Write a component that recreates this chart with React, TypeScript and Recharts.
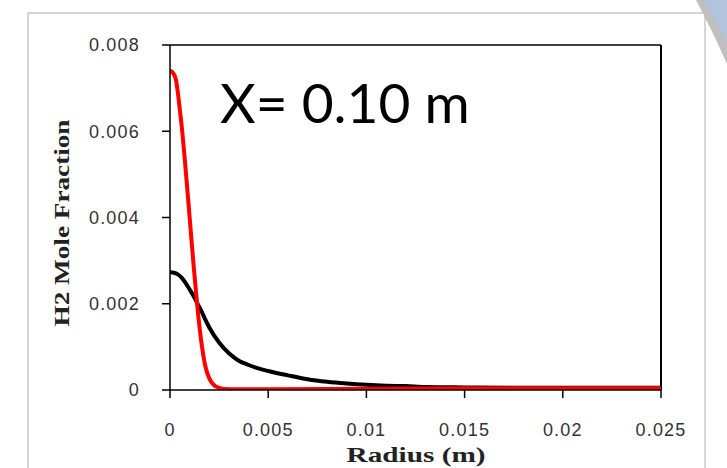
import { LineChart, Line, XAxis, YAxis, ReferenceLine, Label } from 'recharts';

// radius (m) and H2 mole fraction
const redRadius = [0, 0.0001, 0.0002, 0.0003, 0.0004, 0.0005, 0.0006, 0.0008, 0.001, 0.0012, 0.0014, 0.0016, 0.0018, 0.002, 0.0022, 0.0025, 0.003, 0.005, 0.01, 0.015, 0.02, 0.025];
const redValues = [0.0074, 0.00738, 0.00732, 0.0072, 0.0069, 0.0065, 0.0061, 0.0051, 0.004, 0.0029, 0.0019, 0.0011, 0.00055, 0.00027, 0.00013, 0.00005, 0.00002, 0.00002, 0.00003, 0.00004, 0.00004, 0.00004];

const blackRadius = [0, 0.0002, 0.0004, 0.0006, 0.0008, 0.001, 0.0012, 0.0014, 0.0016, 0.0018, 0.002, 0.0025, 0.003, 0.0035, 0.004, 0.0045, 0.005, 0.006, 0.007, 0.008, 0.009, 0.01, 0.011, 0.012, 0.013, 0.015, 0.018, 0.02, 0.025];
const blackValues = [0.00273, 0.00272, 0.00268, 0.0026, 0.00248, 0.00233, 0.00218, 0.002, 0.00183, 0.00163, 0.00145, 0.0011, 0.00085, 0.00068, 0.00058, 0.0005, 0.00044, 0.00034, 0.00025, 0.00019, 0.00015, 0.00012, 0.0001, 0.00009, 0.00007, 0.00006, 0.00005, 0.00005, 0.00005];

const xTicks = [0, 0.005, 0.01, 0.015, 0.02, 0.025];
const yTicks = [0, 0.002, 0.004, 0.006, 0.008];

const redData = redRadius.map((r, i) => ({ r, v: redValues[i] }));
const blackData = blackRadius.map((r, i) => ({ r, v: blackValues[i] }));

const tickStyle = { fontFamily: 'Liberation Sans, Arial, sans-serif', fontSize: 18, fill: '#333', letterSpacing: 1.2 };
const titleFont = 'Liberation Serif, Times New Roman, serif';

export default function App() {
    return <div style={{ position: 'absolute', left: 0, top: 0, width: 727, height: 468, background: '#fff', overflow: 'hidden' }}>
        <svg width={727} height={468} style={{ position: 'absolute', left: 0, top: 0 }}>
            <rect x={28} y={13} width={677} height={470} fill="none" stroke="#c8c8c8" strokeWidth={1.5} />
            <path d="M696 0 L727 0 L727 64 Q712 30 696 0 Z" fill="#bfbfbf" />
            <path d="M704 0 L727 0 L727 42 Q716 20 704 0 Z" fill="#b3c2dd" />
        </svg>
        <LineChart width={727} height={468} data={redData}
            margin={{ top: 45, right: 66, bottom: 38, left: 110 }}
            style={{ position: 'absolute', left: 0, top: 0 }}>
            <XAxis dataKey="r" type="number" domain={[0, 0.025]} ticks={xTicks} allowDataOverflow
                height={40} tickSize={8} tickMargin={25} tick={tickStyle}
                axisLine={{ stroke: '#000', strokeWidth: 1.5 }} tickLine={{ stroke: '#000', strokeWidth: 1.5 }}>
                <Label position="bottom" content={() => (
                    <text x={416} y={462} textAnchor="middle" textLength={139} lengthAdjust="spacingAndGlyphs"
                        fontFamily={titleFont} fontWeight="bold" fontSize={21} fill="#222">Radius (m)</text>
                )} />
            </XAxis>
            <YAxis type="number" domain={[0, 0.008]} ticks={yTicks} allowDataOverflow
                width={60} tickSize={8} tickMargin={22} tick={tickStyle}
                axisLine={{ stroke: '#000', strokeWidth: 1.5 }} tickLine={{ stroke: '#000', strokeWidth: 1.5 }}>
                <Label position="left" content={() => (
                    <text x={0} y={0} transform="translate(69 223) rotate(-90)" textAnchor="middle" textLength={207}
                        lengthAdjust="spacingAndGlyphs" fontFamily={titleFont} fontWeight="bold" fontSize={22} fill="#222">H2 Mole Fraction</text>
                )} />
            </YAxis>
            <ReferenceLine y={0.008} stroke="#000" strokeWidth={1.5} />
            <ReferenceLine x={0.025} stroke="#000" strokeWidth={2} />
            <Line data={blackData} dataKey="v" type="monotone" stroke="#000" strokeWidth={4} dot={false} isAnimationActive={false} />
            <Line data={redData} dataKey="v" type="monotone" stroke="#ff0000" strokeWidth={4} dot={false} isAnimationActive={false} />
        </LineChart>
        <div style={{ position: 'absolute', left: 220, top: 69, fontFamily: 'Lato, Carlito, sans-serif', fontSize: 55, lineHeight: '66px', color: '#000', whiteSpace: 'nowrap' }}>
            X= 0.10 m
        </div>
    </div>
}
